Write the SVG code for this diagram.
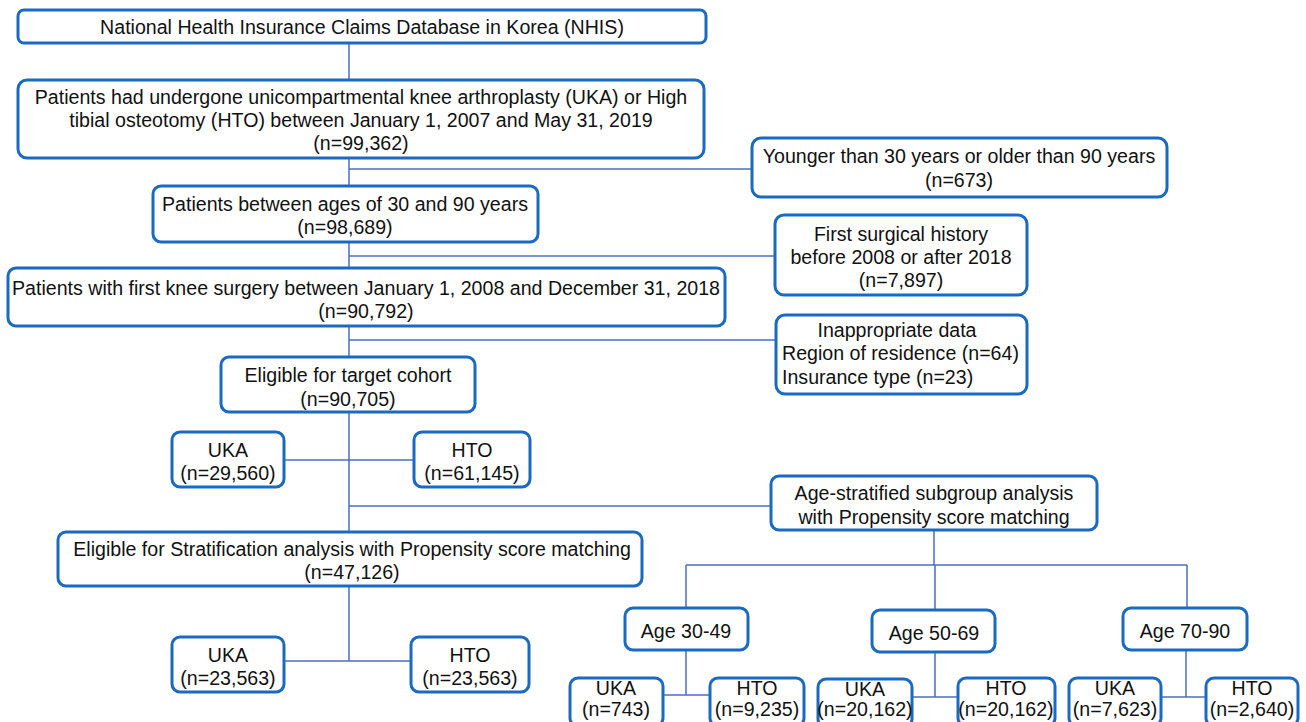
<svg xmlns="http://www.w3.org/2000/svg" width="1306" height="722" viewBox="0 0 1306 722">
<style>
.b{fill:#fff;stroke:#1a6ac2;stroke-width:3}
.c{stroke:#4a6fc4;stroke-width:1.5;fill:none}
text{font-family:"Liberation Sans","Noto Sans",sans-serif;font-size:19.6px;fill:#111}
.m{text-anchor:middle}
</style>
<rect width="1306" height="722" fill="#fff"/>
<g id="connectors">
<path class="c" d="M349 43V80M349 158V186M349 169H752M349 242V268M349 256H775M349 326V357M349 340H776M349 412V532M284 460H414M349 506H771M349 586V661M284 661H411M934 530V565M686 565H1187M686 565V608M935 565V610M1187 565V608M686 650V695M663 695H710M935 652V697M912 697H958M1186 650V697M1161 697H1206"/>
</g>
<g id="n1"><rect class="b" x="18" y="10" width="688" height="33" rx="6"/><text class="m" x="362" y="34">National Health Insurance Claims Database in Korea (NHIS)</text></g>
<g id="n2"><rect class="b" x="18" y="80" width="686" height="78" rx="9"/><text class="m" x="361" y="104">Patients had undergone unicompartmental knee arthroplasty (UKA) or High</text><text class="m" x="361" y="127">tibial osteotomy (HTO) between January 1, 2007 and May 31, 2019</text><text class="m" x="361" y="150">(n=99,362)</text></g>
<g id="x1"><rect class="b" x="752" y="138" width="415" height="59" rx="9"/><text class="m" x="959" y="163">Younger than 30 years or older than 90 years</text><text class="m" x="959" y="187">(n=673)</text></g>
<g id="n3"><rect class="b" x="153" y="186" width="385" height="56" rx="8"/><text class="m" x="345" y="211">Patients between ages of 30 and 90 years</text><text class="m" x="345" y="234">(n=98,689)</text></g>
<g id="x2"><rect class="b" x="775" y="215" width="252" height="80" rx="9"/><text class="m" x="901" y="241">First surgical history</text><text class="m" x="901" y="264">before 2008 or after 2018</text><text class="m" x="901" y="287">(n=7,897)</text></g>
<g id="n4"><rect class="b" x="8" y="268" width="717" height="58" rx="8"/><text class="m" x="366" y="295">Patients with first knee surgery between January 1, 2008 and December 31, 2018</text><text class="m" x="366" y="318">(n=90,792)</text></g>
<g id="x3"><rect class="b" x="776" y="315" width="251" height="79" rx="9"/><text class="m" x="897" y="337">Inappropriate data</text><text x="782" y="360">Region of residence (n=64)</text><text x="782" y="384">Insurance type (n=23)</text></g>
<g id="n5"><rect class="b" x="221" y="357" width="254" height="55" rx="8"/><text class="m" x="348" y="382">Eligible for target cohort</text><text class="m" x="348" y="406">(n=90,705)</text></g>
<g id="u1"><rect class="b" x="172" y="432" width="112" height="55" rx="8"/><text class="m" x="228" y="457">UKA</text><text class="m" x="228" y="480">(n=29,560)</text></g>
<g id="h1"><rect class="b" x="414" y="432" width="116" height="55" rx="8"/><text class="m" x="472" y="457">HTO</text><text class="m" x="472" y="480">(n=61,145)</text></g>
<g id="s1"><rect class="b" x="771" y="476" width="326" height="54" rx="8"/><text class="m" x="934" y="500">Age-stratified subgroup analysis</text><text class="m" x="934" y="524">with Propensity score matching</text></g>
<g id="n6"><rect class="b" x="58" y="532" width="584" height="54" rx="8"/><text class="m" x="352" y="556">Eligible for Stratification analysis with Propensity score matching</text><text class="m" x="352" y="579">(n=47,126)</text></g>
<g id="u2"><rect class="b" x="172" y="637" width="112" height="55" rx="8"/><text class="m" x="228" y="662">UKA</text><text class="m" x="228" y="685">(n=23,563)</text></g>
<g id="h2"><rect class="b" x="411" y="637" width="118" height="55" rx="8"/><text class="m" x="470" y="662">HTO</text><text class="m" x="470" y="685">(n=23,563)</text></g>
<g id="a1"><rect class="b" x="625" y="608" width="123" height="42" rx="8"/><text class="m" x="686" y="638">Age 30-49</text></g>
<g id="a2"><rect class="b" x="872" y="610" width="123" height="42" rx="8"/><text class="m" x="934" y="640">Age 50-69</text></g>
<g id="a3"><rect class="b" x="1123" y="608" width="124" height="42" rx="8"/><text class="m" x="1185" y="638">Age 70-90</text></g>
<g id="u3"><rect class="b" x="570" y="678" width="93" height="48" rx="8"/><text class="m" x="616" y="695">UKA</text><text class="m" x="616" y="716">(n=743)</text></g>
<g id="h3"><rect class="b" x="710" y="678" width="94" height="48" rx="8"/><text class="m" x="757" y="695">HTO</text><text class="m" x="757" y="716">(n=9,235)</text></g>
<g id="u4"><rect class="b" x="818" y="679" width="94" height="48" rx="8"/><text class="m" x="865" y="696">UKA</text><text class="m" x="865" y="716">(n=20,162)</text></g>
<g id="h4"><rect class="b" x="958" y="678" width="97" height="48" rx="8"/><text class="m" x="1006" y="695">HTO</text><text class="m" x="1006" y="716">(n=20,162)</text></g>
<g id="u5"><rect class="b" x="1069" y="678" width="92" height="48" rx="8"/><text class="m" x="1115" y="695">UKA</text><text class="m" x="1115" y="716">(n=7,623)</text></g>
<g id="h5"><rect class="b" x="1206" y="678" width="92" height="48" rx="8"/><text class="m" x="1252" y="695">HTO</text><text class="m" x="1252" y="716">(n=2,640)</text></g>
</svg>
